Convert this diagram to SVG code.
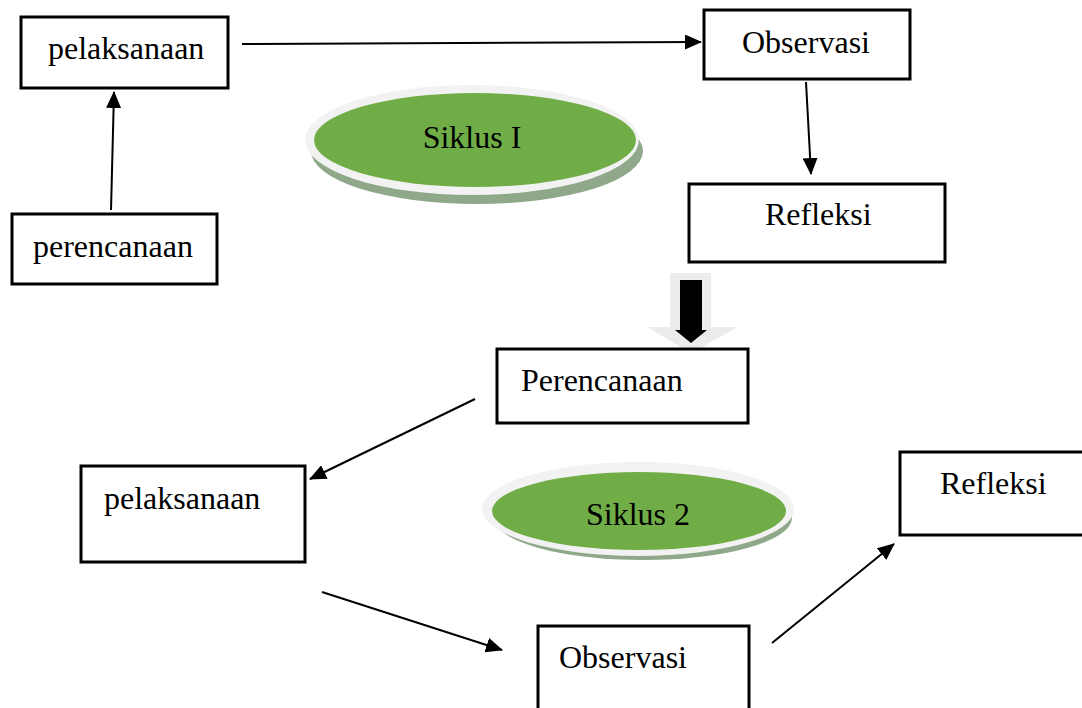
<svg xmlns="http://www.w3.org/2000/svg" width="1082" height="708" viewBox="0 0 1082 708">
<style>
.box{fill:#fff;stroke:#000;stroke-width:3}
.t{font-family:"Liberation Serif","Times New Roman",serif;font-size:32px;fill:#000}
.c{stroke:#000;stroke-width:2;fill:none;marker-end:url(#ah)}
.sh{fill:#8fa88a}
.rim{fill:#f2f2f2}
.g{fill:#70ad47}
</style>
<defs>
<marker id="ah" viewBox="0 0 17 15" refX="16" refY="7.5" markerWidth="17" markerHeight="15" markerUnits="userSpaceOnUse" orient="auto">
<path d="M0,0 L17,7.5 L0,15 Z" fill="#000"/>
</marker>
</defs>
<rect width="1082" height="708" fill="#fff"/>
<g id="n-pelaksanaan1"><rect class="box" x="21" y="17" width="207" height="71"/><text class="t" x="48" y="59">pelaksanaan</text></g>
<g id="n-observasi1"><rect class="box" x="704" y="10" width="206" height="69"/><text class="t" x="742" y="53">Observasi</text></g>
<g id="n-refleksi1"><rect class="box" x="689" y="184" width="256" height="78"/><text class="t" x="765" y="225">Refleksi</text></g>
<g id="n-perencanaan1"><rect class="box" x="12" y="214" width="205" height="70"/><text class="t" x="33" y="257">perencanaan</text></g>
<g id="n-siklus1">
<ellipse class="sh" cx="477" cy="151" rx="166" ry="53"/>
<ellipse class="rim" cx="472" cy="140" rx="167" ry="55"/>
<ellipse class="g" cx="475" cy="140" rx="161" ry="47"/>
<text class="t" x="472" y="148" text-anchor="middle">Siklus I</text>
</g>
<g id="n-bigarrow">
<path d="M670,273 L711,273 L711,327 L738,327 L691,353 L647,327 L670,327 Z" fill="#ececec"/>
<path d="M680,280 L702,280 L702,330 L707,330 L691,343 L675,330 L680,330 Z" fill="#000"/>
</g>
<g id="n-perencanaan2"><rect class="box" x="497" y="349" width="251" height="74"/><text class="t" x="521" y="391">Perencanaan</text></g>
<g id="n-pelaksanaan2"><rect class="box" x="81" y="466" width="224" height="96"/><text class="t" x="104" y="509">pelaksanaan</text></g>
<g id="n-siklus2">
<ellipse class="sh" cx="643" cy="518" rx="149" ry="42"/>
<ellipse class="rim" cx="638" cy="509" rx="156" ry="47"/>
<ellipse class="g" cx="639" cy="511" rx="147" ry="39"/>
<text class="t" x="638" y="525" text-anchor="middle">Siklus 2</text>
</g>
<g id="n-refleksi2"><rect class="box" x="900" y="452" width="200" height="83"/><text class="t" x="940" y="494">Refleksi</text></g>
<g id="n-observasi2"><rect class="box" x="538" y="626" width="211" height="100"/><text class="t" x="559" y="668">Observasi</text></g>
<g id="connectors">
<line class="c" x1="242" y1="44" x2="701" y2="42"/>
<line class="c" x1="111" y1="210" x2="114" y2="92"/>
<line class="c" x1="806" y1="82" x2="811" y2="174"/>
<line class="c" x1="475" y1="399" x2="310" y2="479"/>
<line class="c" x1="322" y1="592" x2="502" y2="650"/>
<line class="c" x1="772" y1="643" x2="894" y2="544"/>
</g>
</svg>
